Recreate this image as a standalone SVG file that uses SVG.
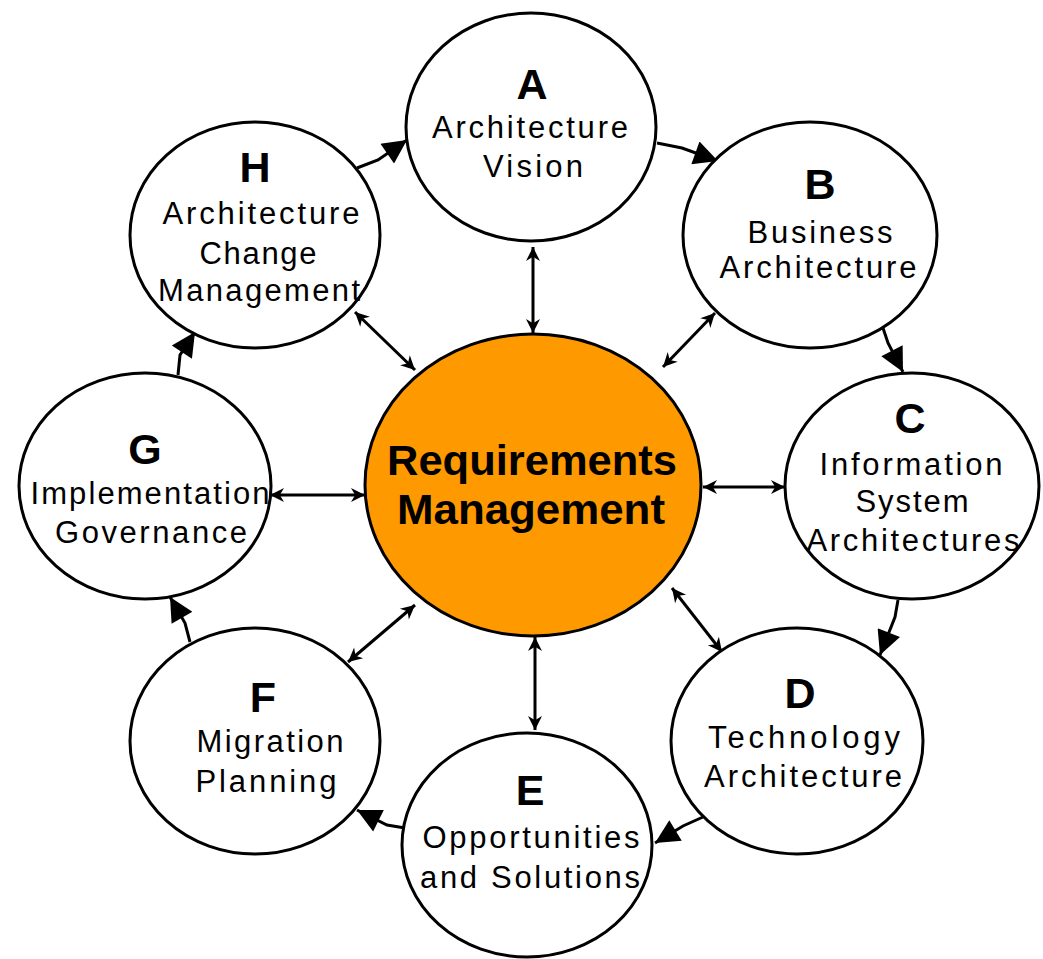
<svg xmlns="http://www.w3.org/2000/svg" width="1043" height="959" viewBox="0 0 1043 959">
<style>
.node{fill:#fff;stroke:#000;stroke-width:3}
.core{fill:#FF9900;stroke:#000;stroke-width:3}
.letter{font-family:"Liberation Sans",Arial,sans-serif;font-weight:bold;font-size:43px;text-anchor:middle;fill:#000}
.lbl{font-family:"Liberation Sans",Arial,sans-serif;font-size:31px;text-anchor:middle;fill:#000}
.big{font-family:"Liberation Sans",Arial,sans-serif;font-weight:bold;font-size:42px;text-anchor:middle;fill:#000}
.dbl{fill:none;stroke:#000;stroke-width:3;marker-start:url(#sm);marker-end:url(#sm)}
.cyc{fill:none;stroke:#000;stroke-width:3;marker-end:url(#lg)}
</style>
<defs>
<marker id="sm" viewBox="0 0 10 10" refX="10" refY="5" markerWidth="20" markerHeight="14" markerUnits="userSpaceOnUse" orient="auto-start-reverse"><path d="M0,0 L10,5 L0,10 L3,5 z" fill="#000"/></marker>
<marker id="lg" viewBox="0 0 10 10" refX="10" refY="5" markerWidth="28" markerHeight="24" markerUnits="userSpaceOnUse" orient="auto"><path d="M0,0 L10,5 L0,10 z" fill="#000"/></marker>
</defs>
<rect width="1043" height="959" fill="#fff"/>
<g id="connectors">
<line class="dbl" x1="533" y1="247" x2="533" y2="333"/>
<line class="dbl" x1="715" y1="313" x2="663" y2="367"/>
<line class="dbl" x1="703" y1="487" x2="785" y2="487"/>
<line class="dbl" x1="672" y1="588" x2="722" y2="652"/>
<line class="dbl" x1="535" y1="637" x2="535" y2="730"/>
<line class="dbl" x1="415" y1="605" x2="348" y2="662"/>
<line class="dbl" x1="270" y1="495" x2="365" y2="495"/>
<line class="dbl" x1="355" y1="312" x2="415" y2="370"/>
<polyline class="cyc" points="357,168 378,160 407,140"/>
<polyline class="cyc" points="657,143 682,148 718,161"/>
<polyline class="cyc" points="883,328 888,343 903,372"/>
<polyline class="cyc" points="898,600 895,617 880,655"/>
<polyline class="cyc" points="703,817 683,826 655,843"/>
<polyline class="cyc" points="405,828 387,825 357,810"/>
<polyline class="cyc" points="190,642 185,623 170,597"/>
<polyline class="cyc" points="178,375 180,355 195,332"/>
</g>
<g id="center">
<ellipse class="core" cx="533" cy="485" rx="168" ry="151"/>
<text class="big" x="532" y="475" textLength="290" lengthAdjust="spacingAndGlyphs">Requirements</text>
<text class="big" x="531" y="524" textLength="268" lengthAdjust="spacingAndGlyphs">Management</text>
</g>
<g id="A">
<ellipse class="node" cx="531" cy="127" rx="125" ry="114"/>
<text class="letter" x="532" y="99">A</text>
<text class="lbl" x="530" y="138" textLength="196" lengthAdjust="spacing">Architecture</text>
<text class="lbl" x="533" y="177" textLength="100" lengthAdjust="spacing">Vision</text>
</g>
<g id="B">
<ellipse class="node" cx="810" cy="235" rx="127" ry="113"/>
<text class="letter" x="820" y="199">B</text>
<text class="lbl" x="820" y="243" textLength="145" lengthAdjust="spacing">Business</text>
<text class="lbl" x="818" y="278" textLength="197" lengthAdjust="spacing">Architecture</text>
</g>
<g id="C">
<ellipse class="node" cx="912" cy="486" rx="127" ry="113"/>
<text class="letter" x="910" y="433">C</text>
<text class="lbl" x="911" y="475" textLength="183" lengthAdjust="spacing">Information</text>
<text class="lbl" x="912" y="512" textLength="113" lengthAdjust="spacing">System</text>
<text class="lbl" x="913" y="551" textLength="213" lengthAdjust="spacing">Architectures</text>
</g>
<g id="D">
<ellipse class="node" cx="797" cy="741" rx="126" ry="113"/>
<text class="letter" x="800" y="708">D</text>
<text class="lbl" x="804" y="748" textLength="192" lengthAdjust="spacing">Technology</text>
<text class="lbl" x="803" y="787" textLength="198" lengthAdjust="spacing">Architecture</text>
</g>
<g id="E">
<ellipse class="node" cx="527" cy="845" rx="125" ry="112"/>
<text class="letter" x="530" y="805">E</text>
<text class="lbl" x="531" y="848" textLength="217" lengthAdjust="spacing">Opportunities</text>
<text class="lbl" x="530" y="888" textLength="220" lengthAdjust="spacing">and Solutions</text>
</g>
<g id="F">
<ellipse class="node" cx="255" cy="741" rx="125" ry="113"/>
<text class="letter" x="263" y="712">F</text>
<text class="lbl" x="270" y="752" textLength="147" lengthAdjust="spacing">Migration</text>
<text class="lbl" x="266" y="792" textLength="141" lengthAdjust="spacing">Planning</text>
</g>
<g id="G">
<ellipse class="node" cx="145" cy="486" rx="126" ry="113"/>
<text class="letter" x="145" y="464">G</text>
<text class="lbl" x="150" y="504" textLength="239" lengthAdjust="spacing">Implementation</text>
<text class="lbl" x="151" y="543" textLength="192" lengthAdjust="spacing">Governance</text>
</g>
<g id="H">
<ellipse class="node" cx="255" cy="235" rx="125" ry="113"/>
<text class="letter" x="255" y="182">H</text>
<text class="lbl" x="261" y="224" textLength="197" lengthAdjust="spacing">Architecture</text>
<text class="lbl" x="258" y="264" textLength="117" lengthAdjust="spacing">Change</text>
<text class="lbl" x="259" y="301" textLength="202" lengthAdjust="spacing">Management</text>
</g>
</svg>
